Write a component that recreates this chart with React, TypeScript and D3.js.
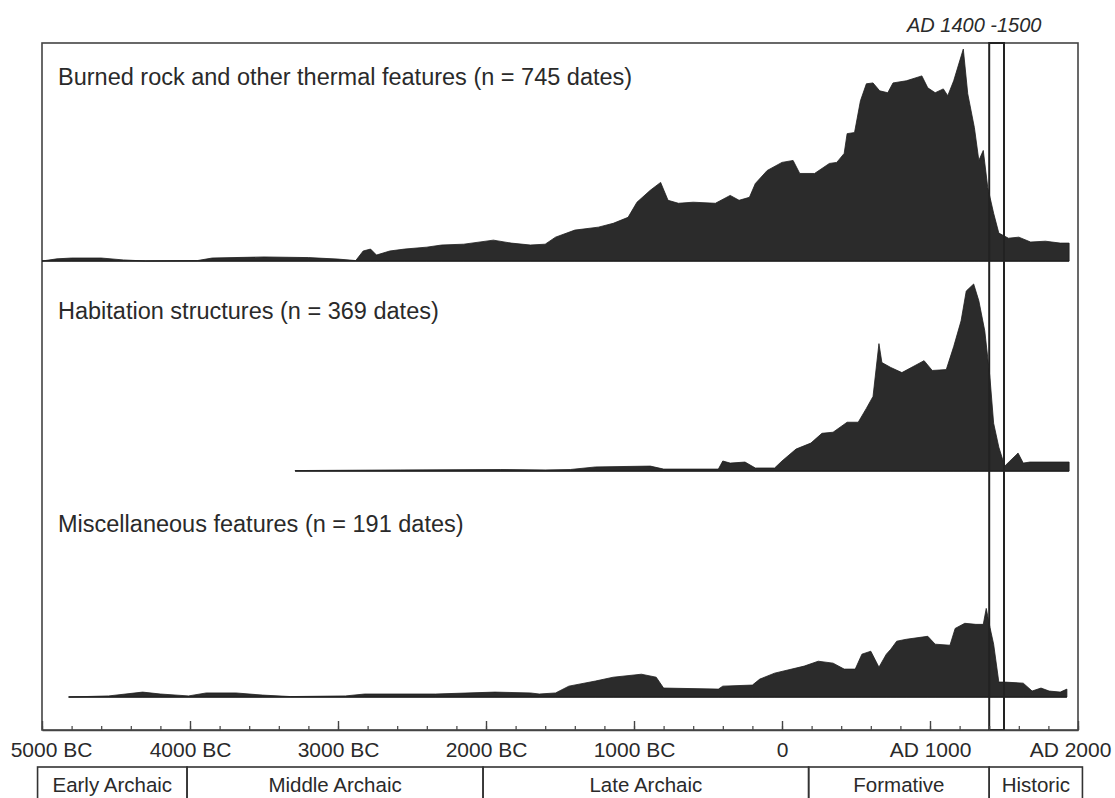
import React, { useEffect, useRef } from "react";
import * as d3 from "d3";

// summed radiocarbon probability, relative units (top panel peak = 100)
// [calendar year (negative = BC), value]
const burnedRock: [number, number][] = [
  [-5000, 0], [-4900, 1], [-4800, 1.4], [-4600, 1.4], [-4450, 0.5], [-4300, 0],
  [-3950, 0.2], [-3850, 1.4], [-3500, 1.9], [-3200, 1.6], [-3000, 0.9], [-2880, 0.2],
  [-2830, 4.7], [-2780, 5.6], [-2740, 2.8], [-2650, 4.7], [-2550, 5.6], [-2400, 6.5],
  [-2300, 7.5], [-2150, 7.9], [-1950, 9.8], [-1830, 8.4], [-1700, 7.5], [-1600, 7.9],
  [-1530, 11.2], [-1400, 14.5], [-1240, 15.9], [-1140, 17.7], [-1040, 20.5], [-980, 27.6],
  [-890, 33.2], [-820, 36.9], [-770, 28.5], [-700, 27.1], [-600, 27.6], [-450, 27.1],
  [-350, 30.8], [-290, 28.5], [-220, 29.9], [-180, 36.4], [-100, 42.5], [0, 46.3],
  [75, 47.2], [120, 41.1], [220, 41.1], [320, 45.8], [370, 46.3], [420, 50.5],
  [440, 59.8], [490, 60.3], [530, 75.2], [570, 83.2], [615, 83.6], [660, 79.9],
  [715, 79.0], [750, 83.6], [840, 84.6], [945, 86.9], [985, 81.3], [1035, 79.0],
  [1090, 80.8], [1120, 77.6], [1160, 84.6], [1225, 99.5], [1255, 78.5], [1300, 62.6],
  [1330, 47.2], [1360, 51.9], [1390, 34.6], [1430, 22.4], [1465, 13.1], [1530, 10.7],
  [1600, 11.2], [1680, 8.9], [1780, 9.3], [1880, 8.4], [1940, 8.4],
];

const habitation: [number, number][] = [
  [-3290, 0.2], [-2580, 0.5], [-1900, 0.7], [-1600, 0.5], [-1430, 0.7], [-1260, 1.9],
  [-890, 2.3], [-800, 0.9], [-430, 0.9], [-400, 4.7], [-350, 3.7], [-250, 4.2],
  [-180, 1.4], [-50, 1.4], [0, 4.7], [95, 10.3], [195, 13.1], [270, 17.7],
  [345, 18.2], [440, 22.9], [515, 22.9], [570, 29.4], [615, 35.0], [655, 59.8],
  [675, 50.9], [735, 48.6], [810, 46.2], [960, 51.8], [1015, 47.2], [1110, 47.6],
  [1160, 58.4], [1210, 70.5], [1245, 84.5], [1295, 87.8], [1330, 79.9], [1370, 65.8],
  [1405, 43.9], [1430, 22.4], [1465, 11.2], [1505, 2.3], [1540, 4.7], [1595, 8.4],
  [1630, 3.7], [1675, 4.2], [1940, 4.2],
];

const miscFeatures: [number, number][] = [
  [-4820, 0], [-4550, 0.5], [-4320, 2.3], [-4200, 1.4], [-4010, 0.5], [-3890, 1.9],
  [-3690, 1.9], [-3510, 0.9], [-3320, 0.2], [-2950, 0.5], [-2820, 1.4], [-2340, 1.4],
  [-1940, 2.3], [-1700, 1.9], [-1640, 1.4], [-1530, 1.9], [-1440, 5.1], [-1260, 7.5],
  [-1140, 9.3], [-950, 10.7], [-850, 9.3], [-800, 4.2], [-430, 3.7], [-400, 5.1],
  [-200, 5.6], [-150, 8.4], [-50, 11.2], [150, 14.5], [245, 16.8], [345, 15.9],
  [420, 13.1], [495, 13.1], [540, 20.1], [600, 21.5], [655, 14.0], [705, 20.1],
  [735, 22.4], [775, 26.2], [840, 27.1], [985, 28.5], [1035, 24.8], [1135, 24.3],
  [1170, 32.2], [1235, 34.6], [1310, 34.1], [1360, 34.1], [1380, 41.6], [1405, 32.7],
  [1430, 24.8], [1465, 7.0], [1505, 7.0], [1630, 6.5], [1690, 2.8], [1750, 4.2],
  [1805, 2.8], [1880, 2.3], [1925, 3.7],
];

const panelTitles = [
  "Burned rock and other thermal features (n = 745 dates)",
  "Habitation structures (n = 369 dates)",
  "Miscellaneous features (n = 191 dates)",
];

const majorTicks = [-5000, -4000, -3000, -2000, -1000, 0, 1000, 2000];
const tickLabels = ["5000 BC", "4000 BC", "3000 BC", "2000 BC", "1000 BC", "0", "AD 1000", "AD 2000"];
const minorTicks = d3.range(-5000, 2001, 200);

const periods = ["Early Archaic", "Middle Archaic", "Late Archaic", "Formative", "Historic"];
const periodBreaks = [-5030, -4020, -2020, 180, 1400, 2030];

const highlightYears = [1400, 1500];
const highlightLabel = "AD 1400 -1500";

const W = 1115;
const H = 798;
const font = "'Liberation Sans', Arial, Helvetica, sans-serif";

const App = () => {
  const svgRef = useRef<SVGSVGElement | null>(null);

  useEffect(() => {
    const svg = d3.select(svgRef.current);
    svg.selectAll("*").remove();

    const left = 42;
    const right = 1078;
    const top = 43;
    const axisY = 730;
    const baselines = [261, 471, 697];
    const peakHeight = 213;

    const x = d3.scaleLinear().domain([-5000, 2000]).range([left, right]);

    // frame
    svg
      .append("rect")
      .attr("x", left)
      .attr("y", top)
      .attr("width", right - left)
      .attr("height", axisY - top)
      .attr("fill", "none")
      .attr("stroke", "#444")
      .attr("stroke-width", 1.6);

    const series = [burnedRock, habitation, miscFeatures];

    series.forEach((data, i) => {
      const base = baselines[i];
      const y = d3.scaleLinear().domain([0, 100]).range([base, base - peakHeight]);

      const area = d3
        .area<[number, number]>()
        .x((d) => x(d[0]))
        .y0(base)
        .y1((d) => y(d[1]));

      svg
        .append("path")
        .datum(data)
        .attr("d", area)
        .attr("fill", "#2b2b2b")
        .attr("stroke", "#1e1e1e")
        .attr("stroke-width", 0.8)
        .attr("stroke-linejoin", "miter");

      svg
        .append("line")
        .attr("x1", i === 0 ? left : x(data[0][0]))
        .attr("x2", x(data[data.length - 1][0]))
        .attr("y1", base)
        .attr("y2", base)
        .attr("stroke", "#222")
        .attr("stroke-width", 1.5);

      const titleY = [85, 319, 532][i];
      svg
        .append("text")
        .attr("x", 58)
        .attr("y", titleY)
        .attr("font-family", font)
        .attr("font-size", 23.5)
        .attr("fill", "#2a2a2a")
        .text(panelTitles[i]);
    });

    // AD 1400-1500 window
    svg
      .append("rect")
      .attr("x", x(highlightYears[0]))
      .attr("y", top)
      .attr("width", x(highlightYears[1]) - x(highlightYears[0]))
      .attr("height", axisY - top)
      .attr("fill", "none")
      .attr("stroke", "#222")
      .attr("stroke-width", 2);

    svg
      .append("text")
      .attr("x", x(highlightYears[0]) - 15)
      .attr("y", 32)
      .attr("text-anchor", "middle")
      .attr("font-family", font)
      .attr("font-style", "italic")
      .attr("font-size", 20)
      .attr("fill", "#2a2a2a")
      .text(highlightLabel);

    // minor ticks
    svg
      .append("g")
      .attr("transform", `translate(0,${axisY})`)
      .call(
        d3
          .axisBottom(x)
          .tickValues(minorTicks)
          .tickSizeInner(-4)
          .tickSizeOuter(0)
          .tickFormat(() => "")
      )
      .call((g) => g.select(".domain").attr("stroke", "#444").attr("stroke-width", 1.6))
      .call((g) => g.selectAll(".tick line").attr("stroke", "#444").attr("stroke-width", 1.2));

    // major ticks + labels
    svg
      .append("g")
      .attr("transform", `translate(0,${axisY})`)
      .call(
        d3
          .axisBottom(x)
          .tickValues(majorTicks)
          .tickSizeInner(-9)
          .tickSizeOuter(0)
          .tickPadding(12)
          .tickFormat((d, i) => tickLabels[i])
      )
      .call((g) => g.select(".domain").remove())
      .call((g) => g.selectAll(".tick line").attr("stroke", "#444").attr("stroke-width", 1.4))
      .call((g) =>
        g
          .selectAll(".tick text")
          .attr("font-family", font)
          .attr("font-size", 21)
          .attr("fill", "#2a2a2a")
          .attr("dx", (d, i) => (i === 0 ? 9 : i === majorTicks.length - 1 ? -8 : 0))
      );

    // cultural periods
    const periodRow = svg.append("g");
    periods.forEach((name, i) => {
      const x0 = x(periodBreaks[i]);
      const x1 = x(periodBreaks[i + 1]);
      periodRow
        .append("rect")
        .attr("x", x0)
        .attr("y", 767)
        .attr("width", x1 - x0)
        .attr("height", 60)
        .attr("fill", "none")
        .attr("stroke", "#333")
        .attr("stroke-width", 1.6);
      periodRow
        .append("text")
        .attr("x", (x0 + x1) / 2)
        .attr("y", 792)
        .attr("text-anchor", "middle")
        .attr("font-family", font)
        .attr("font-size", 20.5)
        .attr("fill", "#2a2a2a")
        .text(name);
    });
  }, []);

  return (
    <svg
      ref={svgRef}
      width={W}
      height={H}
      style={{ position: "absolute", left: 0, top: 0, background: "#fff" }}
    ></svg>
  );
};

export default App;
